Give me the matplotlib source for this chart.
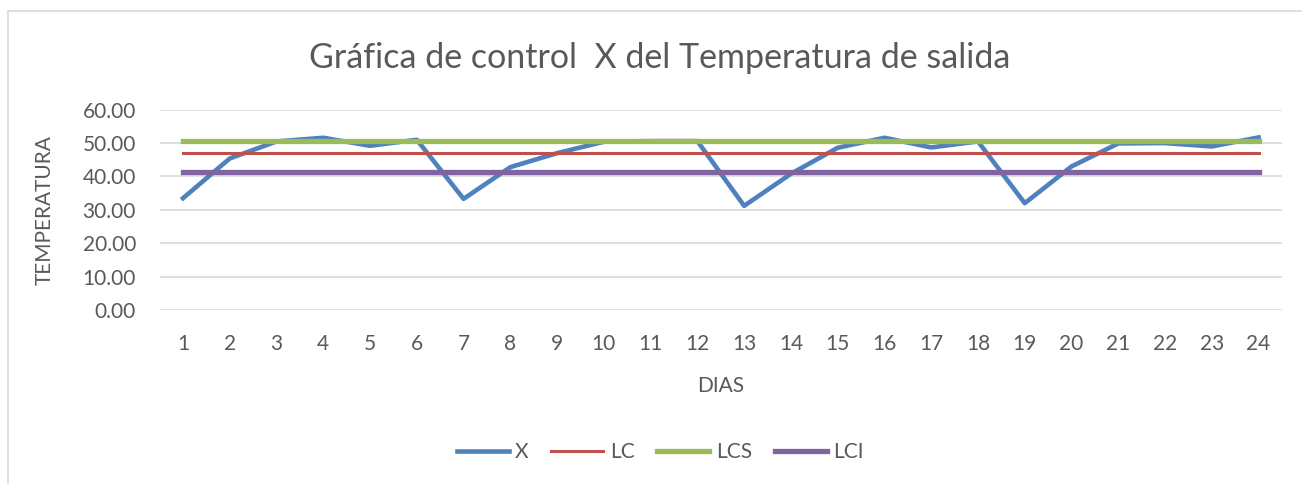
import numpy as np
import matplotlib.pyplot as plt
from matplotlib.patches import Rectangle

plt.rcParams['font.family'] = ['Lato', 'DejaVu Sans']

dias = list(range(1, 25))
x_vals = [33.5, 45.4, 50.5, 51.6, 49.2, 51.0, 33.3, 42.8, 47.0, 50.4, 50.6, 50.6,
          31.2, 40.8, 48.6, 51.6, 48.7, 50.5, 32.0, 43.0, 49.9, 50.0, 49.0, 51.7]
lc = [47.1] * 24
lcs = [50.6] * 24
lci = [41.3] * 24

gris = '#595959'

fig = plt.figure(figsize=(13.02, 4.84), dpi=100)
fig.patches.append(Rectangle((8 / 1302, -0.1), 1.2, 1 - 11 / 484 + 0.1, transform=fig.transFigure,
                             fill=False, edgecolor='#D9D9D9', linewidth=1.2))
ax = fig.add_axes([0.1226, 0.3595, 0.9846 - 0.1226, 0.7733 - 0.3595])

ax.plot(dias, x_vals, color='#4F81BD', linewidth=3.3, label='X', zorder=3)
ax.plot(dias, lc, color='#C0504D', linewidth=2.2, label='LC', zorder=4)
ax.plot(dias, lcs, color='#9BBB59', linewidth=3.8, label='LCS', zorder=5)
ax.plot(dias, lci, color='#8064A2', linewidth=3.8, label='LCI', zorder=6)

ax.set_xlim(0.5, 24.5)
ax.set_ylim(0, 60)
ax.set_yticks(np.arange(0, 61, 10))
ax.set_yticklabels([f'{v:.2f}' for v in np.arange(0, 61, 10)])
ax.set_xticks(dias)
ax.tick_params(axis='both', length=0, labelsize=15, labelcolor=gris)
ax.tick_params(axis='y', pad=17)
ax.tick_params(axis='x', pad=17)
ax.grid(axis='y', color='#D9D9D9', linewidth=1.2)
ax.set_axisbelow(True)
for s in ax.spines.values():
    s.set_visible(False)

ax.set_xlabel('DIAS', fontsize=15, color=gris, labelpad=16)
ax.set_ylabel('TEMPERATURA', fontsize=15, color=gris, labelpad=20)
fig.text(0.507, 1 - 58 / 484, 'Gráfica de control  X del Temperatura de salida',
         fontsize=24.5, color=gris, ha='center', va='center')

fig.legend(loc='center', bbox_to_anchor=(0.507, 1 - 452 / 484), ncol=4, frameon=False,
           fontsize=15, labelcolor=gris, handlelength=2.5, handletextpad=0.3, columnspacing=1.1)

fig.savefig('out.png', dpi=100)
